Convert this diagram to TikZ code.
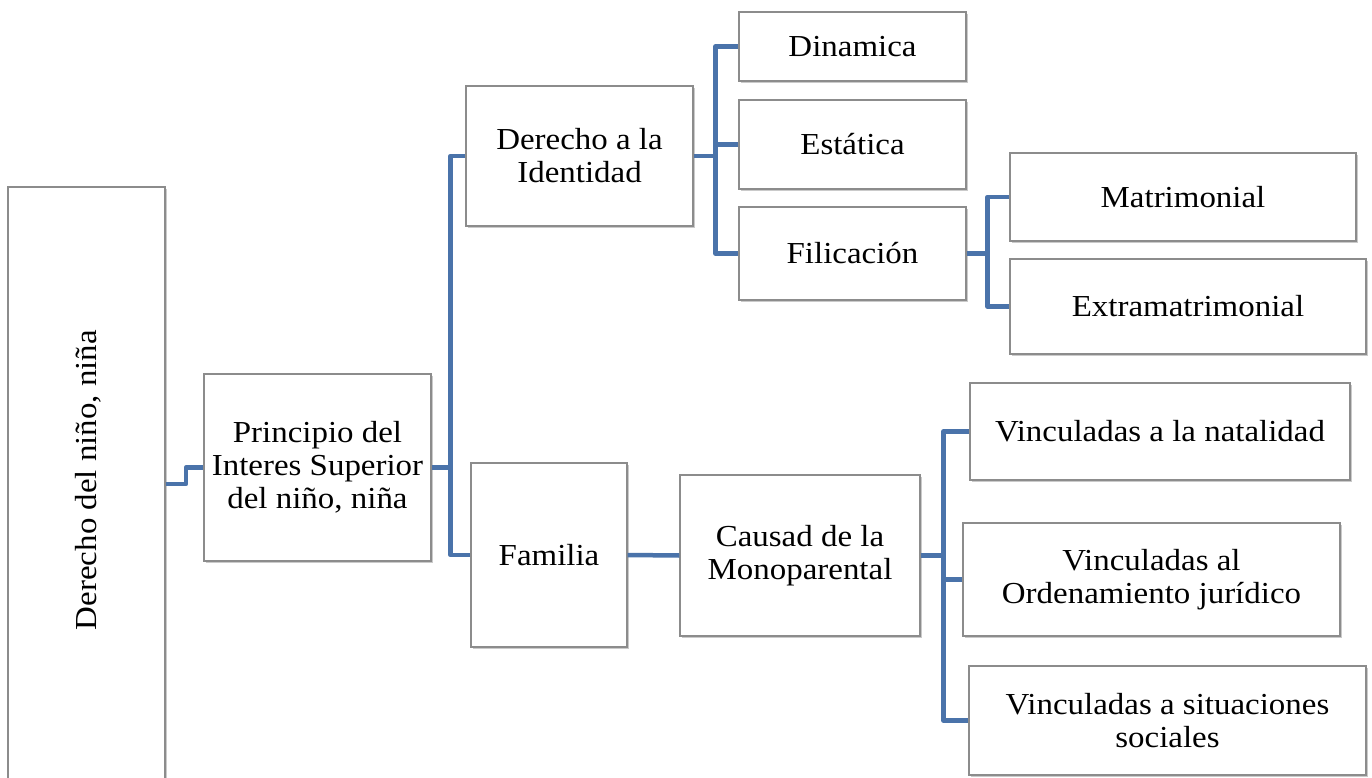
\documentclass[tikz,border=0pt]{standalone}
\usepackage{fontspec}
\setmainfont[FakeStretch=1.08]{Liberation Serif}
\usetikzlibrary{shadows}
\definecolor{connblue}{RGB}{74,115,170}
\definecolor{boxgray}{RGB}{140,140,140}
\begin{document}
\begin{tikzpicture}[x=1pt,y=-1pt,
  box/.style={draw=boxgray, line width=1.2pt, fill=white, inner sep=0pt, align=center,
    font=\fontsize{30.5}{33}\selectfont,
    drop shadow={shadow xshift=1.5pt, shadow yshift=-2pt, opacity=0.35, fill=black!60}},
  conn/.style={draw=connblue, line width=4.5pt, line join=round}]
\useasboundingbox (0,0) rectangle (1372,778);
% boxes
\node[box, minimum width=157pt, minimum height=596pt] (A) at (86.5,485) {};
\node[font=\fontsize{30.5}{33}\selectfont, rotate=90] (Atext) at (88,480) {Derecho del niño, niña};
\node[box, minimum width=227pt, minimum height=187pt] (B) at (317.5,467.5) {Principio del\\Interes Superior\\del niño, niña};
\node[box, minimum width=227pt, minimum height=140pt] (C) at (579.5,156) {Derecho a la\\Identidad};
\node[box, minimum width=156pt, minimum height=184pt] (D) at (549,555) {Familia};
\node[box, minimum width=227pt, minimum height=69pt] (E) at (852.5,46.5) {Dinamica};
\node[box, minimum width=227pt, minimum height=89pt] (F) at (852.5,144.5) {Estática};
\node[box, minimum width=227pt, minimum height=93pt] (G) at (852.5,253.5) {Filicación};
\node[box, minimum width=346pt, minimum height=88pt] (H) at (1183,197) {Matrimonial};
\node[box, minimum width=356pt, minimum height=95pt] (I) at (1188,306.5) {Extramatrimonial};
\node[box, minimum width=240pt, minimum height=161pt] (J) at (800,555.5) {Causad de la\\Monoparental};
\node[box, minimum width=380pt, minimum height=97pt] (K) at (1160,431.5) {Vinculadas a la natalidad};
\node[box, minimum width=377pt, minimum height=113pt] (L) at (1151.5,579.5) {Vinculadas al\\Ordenamiento jurídico};
\node[box, minimum width=397pt, minimum height=109pt] (M) at (1167.5,720.5) {Vinculadas a situaciones\\sociales};
% connectors
\draw[conn] (A.east |- 0,484) -- (186,484) |- (B.west);
\draw[conn] (B.east) -- ++(19,0) coordinate (bt);
\draw[conn] (C.west) -| (bt) |- (D.west);
\draw[conn] (C.east) -- ++(22,0) coordinate (ct);
\draw[conn] (E.west) -| (ct) |- (G.west);
\draw[conn] (F.west) -- (F.west -| ct);
\draw[conn] (G.east) -- ++(21,0) coordinate (gt);
\draw[conn] (H.west) -| (gt) |- (I.west);
\draw[conn] (D.east) -- (J.west);
\draw[conn] (J.east) -- ++(23,0) coordinate (jt);
\draw[conn] (K.west) -| (jt) |- (M.west);
\draw[conn] (L.west) -- (L.west -| jt);
\end{tikzpicture}
\end{document}
